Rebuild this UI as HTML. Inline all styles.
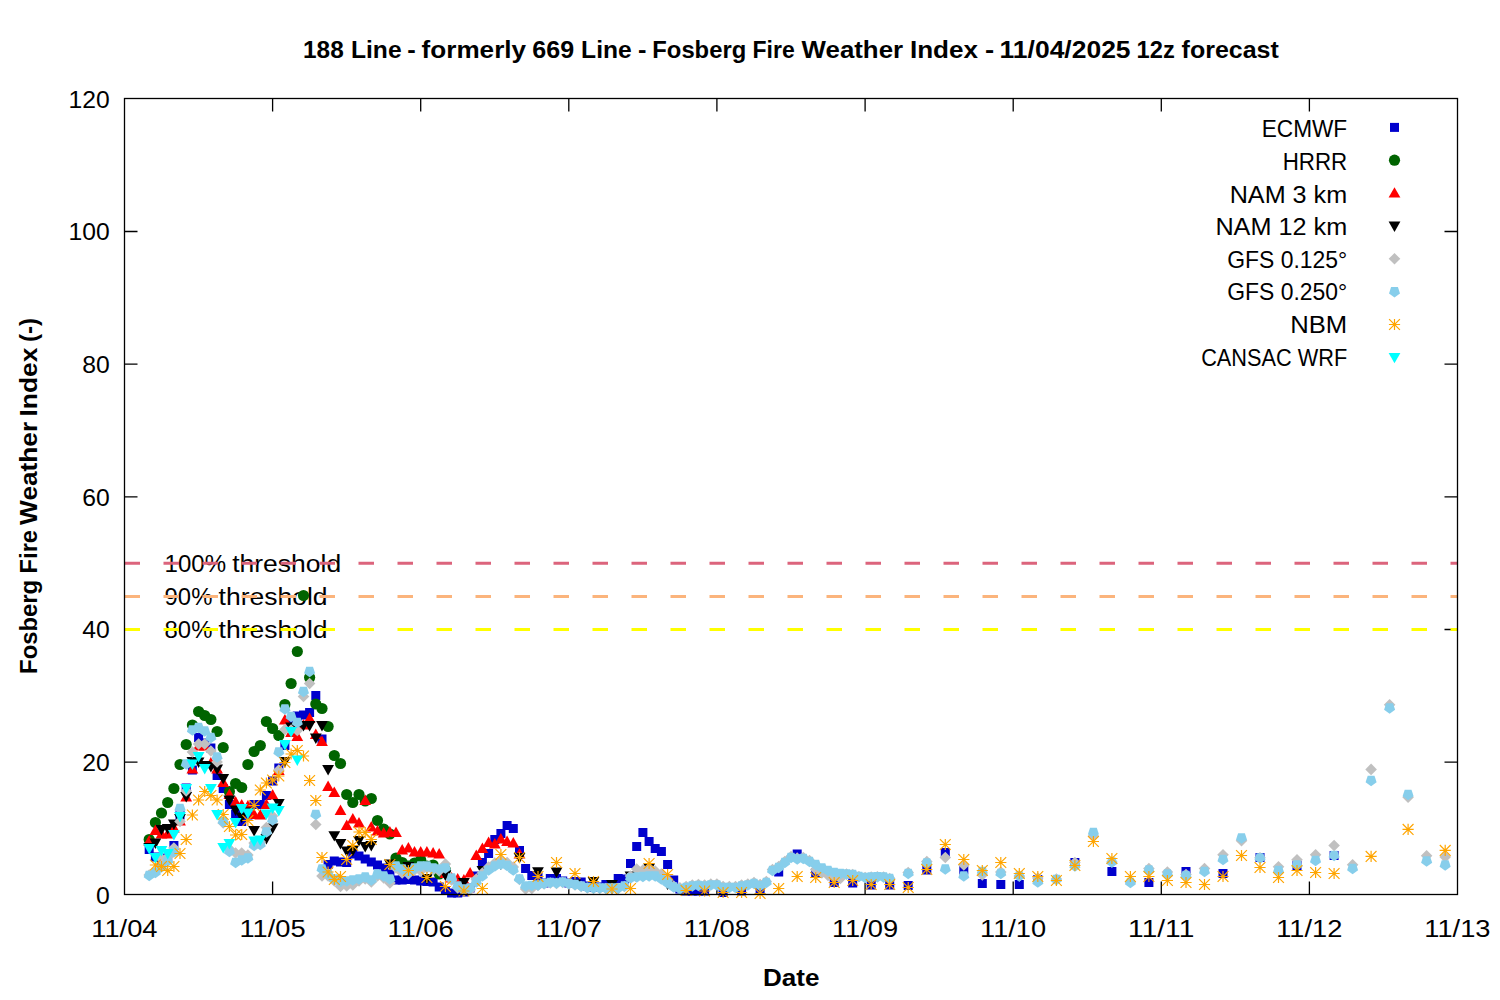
<!DOCTYPE html>
<html><head><meta charset="utf-8"><title>Fosberg Fire Weather Index</title>
<style>
html,body{margin:0;padding:0;background:#fff;}
body{width:1500px;height:1000px;overflow:hidden;font-family:"Liberation Sans",sans-serif;}
svg{display:block}
text{font-family:"Liberation Sans",sans-serif;fill:#000}
.t{font-size:24.2px}
.b{font-size:24.4px;font-weight:bold}
</style></head><body>
<svg width="1500" height="1000" viewBox="0 0 1500 1000">
<rect width="1500" height="1000" fill="#fff"/>
<path d="M272.6 894.5v-13M272.6 98.5v13M420.7 894.5v-13M420.7 98.5v13M568.8 894.5v-13M568.8 98.5v13M716.9 894.5v-13M716.9 98.5v13M865.1 894.5v-13M865.1 98.5v13M1013.2 894.5v-13M1013.2 98.5v13M1161.3 894.5v-13M1161.3 98.5v13M1309.4 894.5v-13M1309.4 98.5v13M124.5 762.1h13M1457.5 762.1h-13M124.5 629.5h13M1457.5 629.5h-13M124.5 496.8h13M1457.5 496.8h-13M124.5 364.1h13M1457.5 364.1h-13M124.5 231.5h13M1457.5 231.5h-13" stroke="#000" stroke-width="1.3" fill="none"/>
<text class="t" x="164.6" y="571.6" textLength="61.5" lengthAdjust="spacingAndGlyphs">100%</text>
<text class="t" x="232.2" y="571.6" textLength="109" lengthAdjust="spacingAndGlyphs">threshold</text>
<text class="t" x="164.6" y="604.8" textLength="47.8" lengthAdjust="spacingAndGlyphs">90%</text>
<text class="t" x="218.6" y="604.8" textLength="109" lengthAdjust="spacingAndGlyphs">threshold</text>
<text class="t" x="164.6" y="638.0" textLength="47.8" lengthAdjust="spacingAndGlyphs">80%</text>
<text class="t" x="218.6" y="638.0" textLength="109" lengthAdjust="spacingAndGlyphs">threshold</text>
<line x1="124.5" x2="1457.5" y1="563.2" y2="563.2" stroke="#dc647c" stroke-width="3" stroke-dasharray="15.5 23.5"/>
<line x1="124.5" x2="1457.5" y1="596.4" y2="596.4" stroke="#fbb47c" stroke-width="3" stroke-dasharray="15.5 23.5"/>
<line x1="124.5" x2="1457.5" y1="629.6" y2="629.6" stroke="#ffff00" stroke-width="3" stroke-dasharray="15.5 23.5"/>
<g fill="#0000cd">
<rect x="144.7" y="845" width="9" height="9"/><rect x="150.9" y="852.5" width="9" height="9"/><rect x="157" y="858.5" width="9" height="9"/><rect x="163.2" y="853.5" width="9" height="9"/><rect x="169.4" y="841" width="9" height="9"/><rect x="175.5" y="810.5" width="9" height="9"/><rect x="181.7" y="783.5" width="9" height="9"/><rect x="187.9" y="765.5" width="9" height="9"/><rect x="194.1" y="733" width="9" height="9"/><rect x="200.2" y="738.5" width="9" height="9"/><rect x="206.4" y="743.5" width="9" height="9"/><rect x="212.6" y="771" width="9" height="9"/><rect x="218.7" y="784" width="9" height="9"/><rect x="224.9" y="800" width="9" height="9"/><rect x="231.1" y="809.5" width="9" height="9"/><rect x="237.2" y="817" width="9" height="9"/><rect x="243.4" y="810.5" width="9" height="9"/><rect x="249.6" y="800" width="9" height="9"/><rect x="255.8" y="800" width="9" height="9"/><rect x="261.9" y="791" width="9" height="9"/><rect x="268.1" y="776.5" width="9" height="9"/><rect x="274.3" y="763.5" width="9" height="9"/><rect x="280.4" y="741" width="9" height="9"/><rect x="286.6" y="719.5" width="9" height="9"/><rect x="292.8" y="711.5" width="9" height="9"/><rect x="299" y="710.5" width="9" height="9"/><rect x="305.1" y="708" width="9" height="9"/><rect x="311.3" y="691" width="9" height="9"/><rect x="317.5" y="734.5" width="9" height="9"/><rect x="323.6" y="860" width="9" height="9"/><rect x="329.8" y="856.5" width="9" height="9"/><rect x="336" y="857.5" width="9" height="9"/><rect x="342.2" y="858" width="9" height="9"/><rect x="348.3" y="849.5" width="9" height="9"/><rect x="354.5" y="851.5" width="9" height="9"/><rect x="360.7" y="854.5" width="9" height="9"/><rect x="366.8" y="857.5" width="9" height="9"/><rect x="373" y="860.5" width="9" height="9"/><rect x="379.2" y="863.5" width="9" height="9"/><rect x="385.4" y="869.5" width="9" height="9"/><rect x="391.5" y="875.5" width="9" height="9"/><rect x="397.7" y="875.5" width="9" height="9"/><rect x="403.9" y="875" width="9" height="9"/><rect x="410" y="875.5" width="9" height="9"/><rect x="416.2" y="876.5" width="9" height="9"/><rect x="422.4" y="877" width="9" height="9"/><rect x="428.6" y="877.5" width="9" height="9"/><rect x="434.7" y="882.5" width="9" height="9"/><rect x="440.9" y="886" width="9" height="9"/><rect x="447.1" y="888.5" width="9" height="9"/><rect x="453.2" y="888.5" width="9" height="9"/><rect x="459.4" y="887.5" width="9" height="9"/><rect x="465.6" y="883.5" width="9" height="9"/><rect x="471.8" y="871.5" width="9" height="9"/><rect x="477.9" y="858" width="9" height="9"/><rect x="484.1" y="849" width="9" height="9"/><rect x="490.3" y="835" width="9" height="9"/><rect x="496.4" y="829" width="9" height="9"/><rect x="502.6" y="821" width="9" height="9"/><rect x="508.8" y="824" width="9" height="9"/><rect x="515" y="846" width="9" height="9"/><rect x="521.1" y="864" width="9" height="9"/><rect x="527.3" y="871" width="9" height="9"/><rect x="533.5" y="873" width="9" height="9"/><rect x="539.6" y="878.5" width="9" height="9"/><rect x="545.8" y="874" width="9" height="9"/><rect x="552" y="874" width="9" height="9"/><rect x="558.2" y="876.5" width="9" height="9"/><rect x="564.3" y="878.5" width="9" height="9"/><rect x="570.5" y="877" width="9" height="9"/><rect x="576.7" y="877.5" width="9" height="9"/><rect x="582.8" y="881.5" width="9" height="9"/><rect x="589" y="883" width="9" height="9"/><rect x="595.2" y="882.5" width="9" height="9"/><rect x="601.4" y="880" width="9" height="9"/><rect x="607.5" y="881.5" width="9" height="9"/><rect x="613.7" y="874" width="9" height="9"/><rect x="619.9" y="874.5" width="9" height="9"/><rect x="626" y="859" width="9" height="9"/><rect x="632.2" y="842" width="9" height="9"/><rect x="638.4" y="828" width="9" height="9"/><rect x="644.6" y="837" width="9" height="9"/><rect x="650.7" y="844" width="9" height="9"/><rect x="656.9" y="847" width="9" height="9"/><rect x="663.1" y="860" width="9" height="9"/><rect x="669.2" y="875.5" width="9" height="9"/><rect x="675.4" y="884.5" width="9" height="9"/><rect x="681.6" y="886.5" width="9" height="9"/><rect x="687.8" y="886.5" width="9" height="9"/><rect x="693.9" y="886.5" width="9" height="9"/><rect x="700.1" y="886.5" width="9" height="9"/><rect x="718.6" y="888" width="9" height="9"/><rect x="737.1" y="886.5" width="9" height="9"/><rect x="755.6" y="886" width="9" height="9"/><rect x="774.2" y="867.5" width="9" height="9"/><rect x="792.7" y="849.5" width="9" height="9"/><rect x="811.2" y="868" width="9" height="9"/><rect x="829.7" y="878" width="9" height="9"/><rect x="848.2" y="878.5" width="9" height="9"/><rect x="866.7" y="880.5" width="9" height="9"/><rect x="885.2" y="880.5" width="9" height="9"/><rect x="903.7" y="881" width="9" height="9"/><rect x="922.3" y="865.5" width="9" height="9"/><rect x="940.8" y="848" width="9" height="9"/><rect x="959.3" y="865.5" width="9" height="9"/><rect x="977.8" y="879" width="9" height="9"/><rect x="996.3" y="880" width="9" height="9"/><rect x="1014.8" y="880" width="9" height="9"/><rect x="1033.3" y="875" width="9" height="9"/><rect x="1070.4" y="858" width="9" height="9"/><rect x="1107.4" y="867" width="9" height="9"/><rect x="1144.4" y="878" width="9" height="9"/><rect x="1181.5" y="867" width="9" height="9"/><rect x="1218.5" y="869" width="9" height="9"/><rect x="1255.5" y="853" width="9" height="9"/><rect x="1292.5" y="861" width="9" height="9"/><rect x="1329.6" y="851" width="9" height="9"/>
</g>
<g fill="#006400">
<circle cx="149.2" cy="839.5" r="5.6"/><circle cx="155.4" cy="822.5" r="5.6"/><circle cx="161.5" cy="813" r="5.6"/><circle cx="167.7" cy="802.5" r="5.6"/><circle cx="173.9" cy="788.5" r="5.6"/><circle cx="180" cy="764.5" r="5.6"/><circle cx="186.2" cy="744.5" r="5.6"/><circle cx="192.4" cy="725" r="5.6"/><circle cx="198.6" cy="711.5" r="5.6"/><circle cx="204.7" cy="715.5" r="5.6"/><circle cx="210.9" cy="719.5" r="5.6"/><circle cx="217.1" cy="731.5" r="5.6"/><circle cx="223.2" cy="747.5" r="5.6"/><circle cx="229.4" cy="791.5" r="5.6"/><circle cx="235.6" cy="783.5" r="5.6"/><circle cx="241.7" cy="787.5" r="5.6"/><circle cx="247.9" cy="764.5" r="5.6"/><circle cx="254.1" cy="751.5" r="5.6"/><circle cx="260.3" cy="745.5" r="5.6"/><circle cx="266.4" cy="721.5" r="5.6"/><circle cx="272.6" cy="728.5" r="5.6"/><circle cx="278.8" cy="735.5" r="5.6"/><circle cx="284.9" cy="704.5" r="5.6"/><circle cx="291.1" cy="683.5" r="5.6"/><circle cx="297.3" cy="651.5" r="5.6"/><circle cx="303.5" cy="595.5" r="5.6"/><circle cx="309.6" cy="677.5" r="5.6"/><circle cx="315.8" cy="704" r="5.6"/><circle cx="322" cy="708.5" r="5.6"/><circle cx="328.1" cy="726.5" r="5.6"/><circle cx="334.3" cy="755.5" r="5.6"/><circle cx="340.5" cy="763.5" r="5.6"/><circle cx="346.7" cy="794.5" r="5.6"/><circle cx="352.8" cy="802.5" r="5.6"/><circle cx="359" cy="794.5" r="5.6"/><circle cx="365.2" cy="801" r="5.6"/><circle cx="371.3" cy="798.5" r="5.6"/><circle cx="377.5" cy="820.5" r="5.6"/><circle cx="383.7" cy="829" r="5.6"/><circle cx="389.9" cy="834" r="5.6"/><circle cx="396" cy="858" r="5.6"/><circle cx="402.2" cy="862.5" r="5.6"/><circle cx="408.4" cy="866" r="5.6"/><circle cx="414.5" cy="863" r="5.6"/><circle cx="420.7" cy="860" r="5.6"/><circle cx="426.9" cy="866" r="5.6"/><circle cx="433.1" cy="865" r="5.6"/><circle cx="439.2" cy="874" r="5.6"/><circle cx="445.4" cy="870" r="5.6"/>
</g>
<g fill="#ff0000">
<path d="M143.3 845.5h11.8L149.2 835.1z"/><path d="M149.5 835h11.8L155.4 824.6z"/><path d="M155.6 838.5h11.8L161.5 828.1z"/><path d="M161.8 838.5h11.8L167.7 828.1z"/><path d="M168 832.5h11.8L173.9 822.1z"/><path d="M174.1 825.5h11.8L180 815.1z"/><path d="M180.3 801.5h11.8L186.2 791.1z"/><path d="M186.5 773.5h11.8L192.4 763.1z"/><path d="M192.7 750.5h11.8L198.6 740.1z"/><path d="M198.8 750.5h11.8L204.7 740.1z"/><path d="M205 767.5h11.8L210.9 757.1z"/><path d="M211.2 773.5h11.8L217.1 763.1z"/><path d="M217.3 787h11.8L223.2 776.6z"/><path d="M223.5 799h11.8L229.4 788.6z"/><path d="M229.7 806.5h11.8L235.6 796.1z"/><path d="M235.8 809.5h11.8L241.7 799.1z"/><path d="M242 810.5h11.8L247.9 800.1z"/><path d="M248.2 819h11.8L254.1 808.6z"/><path d="M254.4 819.5h11.8L260.3 809.1z"/><path d="M260.5 809h11.8L266.4 798.6z"/><path d="M266.7 799.5h11.8L272.6 789.1z"/><path d="M272.9 775h11.8L278.8 764.6z"/><path d="M279 724.5h11.8L284.9 714.1z"/><path d="M285.2 737h11.8L291.1 726.6z"/><path d="M291.4 741h11.8L297.3 730.6z"/><path d="M297.6 729.5h11.8L303.5 719.1z"/><path d="M303.7 723h11.8L309.6 712.6z"/><path d="M309.9 739h11.8L315.8 728.6z"/><path d="M316.1 746h11.8L322 735.6z"/><path d="M322.2 791h11.8L328.1 780.6z"/><path d="M328.4 797h11.8L334.3 786.6z"/><path d="M334.6 815h11.8L340.5 804.6z"/><path d="M340.8 830h11.8L346.7 819.6z"/><path d="M346.9 823.5h11.8L352.8 813.1z"/><path d="M353.1 827.5h11.8L359 817.1z"/><path d="M359.3 805h11.8L365.2 794.6z"/><path d="M365.4 831.5h11.8L371.3 821.1z"/><path d="M371.6 835.5h11.8L377.5 825.1z"/><path d="M377.8 837.5h11.8L383.7 827.1z"/><path d="M384 836.5h11.8L389.9 826.1z"/><path d="M390.1 837h11.8L396 826.6z"/><path d="M396.3 854.5h11.8L402.2 844.1z"/><path d="M402.5 852.5h11.8L408.4 842.1z"/><path d="M408.6 856.5h11.8L414.5 846.1z"/><path d="M414.8 856.5h11.8L420.7 846.1z"/><path d="M421 856.5h11.8L426.9 846.1z"/><path d="M427.2 857.5h11.8L433.1 847.1z"/><path d="M433.3 858.5h11.8L439.2 848.1z"/><path d="M439.5 878h11.8L445.4 867.6z"/><path d="M445.7 882.5h11.8L451.6 872.1z"/><path d="M451.8 883.5h11.8L457.7 873.1z"/><path d="M458 884.5h11.8L463.9 874.1z"/><path d="M464.2 877.5h11.8L470.1 867.1z"/><path d="M470.4 860h11.8L476.3 849.6z"/><path d="M476.5 853h11.8L482.4 842.6z"/><path d="M482.7 847h11.8L488.6 836.6z"/><path d="M488.9 848.5h11.8L494.8 838.1z"/><path d="M495 843.5h11.8L500.9 833.1z"/><path d="M501.2 846h11.8L507.1 835.6z"/><path d="M507.4 847.5h11.8L513.3 837.1z"/><path d="M513.6 858.5h11.8L519.5 848.1z"/>
</g>
<g fill="#000">
<path d="M143.3 843h11.8L149.2 853.4z"/><path d="M149.5 838.5h11.8L155.4 848.9z"/><path d="M155.6 825h11.8L161.5 835.4z"/><path d="M161.8 824h11.8L167.7 834.4z"/><path d="M168 819.5h11.8L173.9 829.9z"/><path d="M174.1 814h11.8L180 824.4z"/><path d="M180.3 792h11.8L186.2 802.4z"/><path d="M186.5 757h11.8L192.4 767.4z"/><path d="M192.7 757.5h11.8L198.6 767.9z"/><path d="M198.8 761h11.8L204.7 771.4z"/><path d="M205 762h11.8L210.9 772.4z"/><path d="M211.2 764.5h11.8L217.1 774.9z"/><path d="M217.3 774h11.8L223.2 784.4z"/><path d="M223.5 795.5h11.8L229.4 805.9z"/><path d="M229.7 805.5h11.8L235.6 815.9z"/><path d="M235.8 812.5h11.8L241.7 822.9z"/><path d="M242 807.5h11.8L247.9 817.9z"/><path d="M248.2 826h11.8L254.1 836.4z"/><path d="M254.4 837.5h11.8L260.3 847.9z"/><path d="M260.5 834h11.8L266.4 844.4z"/><path d="M266.7 823.5h11.8L272.6 833.9z"/><path d="M272.9 799h11.8L278.8 809.4z"/><path d="M279 757h11.8L284.9 767.4z"/><path d="M285.2 722.5h11.8L291.1 732.9z"/><path d="M291.4 722.5h11.8L297.3 732.9z"/><path d="M297.6 721h11.8L303.5 731.4z"/><path d="M303.7 721h11.8L309.6 731.4z"/><path d="M309.9 733.5h11.8L315.8 743.9z"/><path d="M316.1 721h11.8L322 731.4z"/><path d="M322.2 765h11.8L328.1 775.4z"/><path d="M328.4 831.2h11.8L334.3 841.6z"/><path d="M334.6 839.1h11.8L340.5 849.5z"/><path d="M340.8 846.5h11.8L346.7 856.9z"/><path d="M346.9 846h11.8L352.8 856.4z"/><path d="M353.1 836h11.8L359 846.4z"/><path d="M359.3 842h11.8L365.2 852.4z"/><path d="M365.4 841h11.8L371.3 851.4z"/><path d="M384 859.5h11.8L389.9 869.9z"/><path d="M402.5 862h11.8L408.4 872.4z"/><path d="M421 874h11.8L426.9 884.4z"/><path d="M439.5 870.5h11.8L445.4 880.9z"/><path d="M458 878h11.8L463.9 888.4z"/><path d="M476.5 866h11.8L482.4 876.4z"/><path d="M495 859.5h11.8L500.9 869.9z"/><path d="M513.6 853h11.8L519.5 863.4z"/><path d="M532.1 867.2h11.8L538 877.6z"/><path d="M550.6 867.5h11.8L556.5 877.9z"/><path d="M569.1 879.5h11.8L575 889.9z"/><path d="M587.6 877h11.8L593.5 887.4z"/><path d="M606.1 880h11.8L612 890.4z"/><path d="M624.6 871.5h11.8L630.5 881.9z"/><path d="M643.2 863.5h11.8L649.1 873.9z"/><path d="M661.7 879.5h11.8L667.6 889.9z"/>
</g>
<g fill="#c0c0c0">
<path d="M143.4 875l5.8 -5.8l5.8 5.8l-5.8 5.8z"/><path d="M149.6 872l5.8 -5.8l5.8 5.8l-5.8 5.8z"/><path d="M155.7 859l5.8 -5.8l5.8 5.8l-5.8 5.8z"/><path d="M161.9 857l5.8 -5.8l5.8 5.8l-5.8 5.8z"/><path d="M168.1 848l5.8 -5.8l5.8 5.8l-5.8 5.8z"/><path d="M174.2 821.5l5.8 -5.8l5.8 5.8l-5.8 5.8z"/><path d="M180.4 791l5.8 -5.8l5.8 5.8l-5.8 5.8z"/><path d="M186.6 752l5.8 -5.8l5.8 5.8l-5.8 5.8z"/><path d="M192.8 744l5.8 -5.8l5.8 5.8l-5.8 5.8z"/><path d="M198.9 744l5.8 -5.8l5.8 5.8l-5.8 5.8z"/><path d="M205.1 751l5.8 -5.8l5.8 5.8l-5.8 5.8z"/><path d="M211.3 762l5.8 -5.8l5.8 5.8l-5.8 5.8z"/><path d="M217.4 823l5.8 -5.8l5.8 5.8l-5.8 5.8z"/><path d="M223.6 849l5.8 -5.8l5.8 5.8l-5.8 5.8z"/><path d="M229.8 853l5.8 -5.8l5.8 5.8l-5.8 5.8z"/><path d="M235.9 853l5.8 -5.8l5.8 5.8l-5.8 5.8z"/><path d="M242.1 855l5.8 -5.8l5.8 5.8l-5.8 5.8z"/><path d="M248.3 843l5.8 -5.8l5.8 5.8l-5.8 5.8z"/><path d="M254.5 842l5.8 -5.8l5.8 5.8l-5.8 5.8z"/><path d="M260.6 827.5l5.8 -5.8l5.8 5.8l-5.8 5.8z"/><path d="M266.8 816l5.8 -5.8l5.8 5.8l-5.8 5.8z"/><path d="M273 770l5.8 -5.8l5.8 5.8l-5.8 5.8z"/><path d="M279.1 729.5l5.8 -5.8l5.8 5.8l-5.8 5.8z"/><path d="M285.3 730l5.8 -5.8l5.8 5.8l-5.8 5.8z"/><path d="M291.5 730.5l5.8 -5.8l5.8 5.8l-5.8 5.8z"/><path d="M297.7 696.5l5.8 -5.8l5.8 5.8l-5.8 5.8z"/><path d="M303.8 683.5l5.8 -5.8l5.8 5.8l-5.8 5.8z"/><path d="M310 824.5l5.8 -5.8l5.8 5.8l-5.8 5.8z"/><path d="M316.2 876l5.8 -5.8l5.8 5.8l-5.8 5.8z"/><path d="M322.3 876l5.8 -5.8l5.8 5.8l-5.8 5.8z"/><path d="M328.5 881l5.8 -5.8l5.8 5.8l-5.8 5.8z"/><path d="M334.7 886.5l5.8 -5.8l5.8 5.8l-5.8 5.8z"/><path d="M340.9 886l5.8 -5.8l5.8 5.8l-5.8 5.8z"/><path d="M347 885l5.8 -5.8l5.8 5.8l-5.8 5.8z"/><path d="M353.2 881l5.8 -5.8l5.8 5.8l-5.8 5.8z"/><path d="M359.4 879l5.8 -5.8l5.8 5.8l-5.8 5.8z"/><path d="M365.5 882l5.8 -5.8l5.8 5.8l-5.8 5.8z"/><path d="M371.7 876l5.8 -5.8l5.8 5.8l-5.8 5.8z"/><path d="M377.9 878l5.8 -5.8l5.8 5.8l-5.8 5.8z"/><path d="M384.1 883l5.8 -5.8l5.8 5.8l-5.8 5.8z"/><path d="M390.2 868l5.8 -5.8l5.8 5.8l-5.8 5.8z"/><path d="M396.4 873l5.8 -5.8l5.8 5.8l-5.8 5.8z"/><path d="M402.6 874l5.8 -5.8l5.8 5.8l-5.8 5.8z"/><path d="M408.7 870l5.8 -5.8l5.8 5.8l-5.8 5.8z"/><path d="M414.9 871l5.8 -5.8l5.8 5.8l-5.8 5.8z"/><path d="M421.1 868l5.8 -5.8l5.8 5.8l-5.8 5.8z"/><path d="M427.3 870l5.8 -5.8l5.8 5.8l-5.8 5.8z"/><path d="M433.4 871l5.8 -5.8l5.8 5.8l-5.8 5.8z"/><path d="M439.6 864l5.8 -5.8l5.8 5.8l-5.8 5.8z"/><path d="M445.8 880l5.8 -5.8l5.8 5.8l-5.8 5.8z"/><path d="M451.9 888l5.8 -5.8l5.8 5.8l-5.8 5.8z"/><path d="M458.1 891l5.8 -5.8l5.8 5.8l-5.8 5.8z"/><path d="M464.3 890l5.8 -5.8l5.8 5.8l-5.8 5.8z"/><path d="M470.5 879l5.8 -5.8l5.8 5.8l-5.8 5.8z"/><path d="M476.6 873l5.8 -5.8l5.8 5.8l-5.8 5.8z"/><path d="M482.8 867l5.8 -5.8l5.8 5.8l-5.8 5.8z"/><path d="M489 863l5.8 -5.8l5.8 5.8l-5.8 5.8z"/><path d="M495.1 861l5.8 -5.8l5.8 5.8l-5.8 5.8z"/><path d="M501.3 862.5l5.8 -5.8l5.8 5.8l-5.8 5.8z"/><path d="M507.5 867l5.8 -5.8l5.8 5.8l-5.8 5.8z"/><path d="M513.7 879.5l5.8 -5.8l5.8 5.8l-5.8 5.8z"/><path d="M519.8 889l5.8 -5.8l5.8 5.8l-5.8 5.8z"/><path d="M526 888.5l5.8 -5.8l5.8 5.8l-5.8 5.8z"/><path d="M532.2 885.5l5.8 -5.8l5.8 5.8l-5.8 5.8z"/><path d="M538.3 884l5.8 -5.8l5.8 5.8l-5.8 5.8z"/><path d="M544.5 883l5.8 -5.8l5.8 5.8l-5.8 5.8z"/><path d="M550.7 883.5l5.8 -5.8l5.8 5.8l-5.8 5.8z"/><path d="M556.9 882.5l5.8 -5.8l5.8 5.8l-5.8 5.8z"/><path d="M563 884l5.8 -5.8l5.8 5.8l-5.8 5.8z"/><path d="M569.2 885l5.8 -5.8l5.8 5.8l-5.8 5.8z"/><path d="M575.4 886.5l5.8 -5.8l5.8 5.8l-5.8 5.8z"/><path d="M581.5 888l5.8 -5.8l5.8 5.8l-5.8 5.8z"/><path d="M587.7 888.5l5.8 -5.8l5.8 5.8l-5.8 5.8z"/><path d="M593.9 888.5l5.8 -5.8l5.8 5.8l-5.8 5.8z"/><path d="M600.1 888.5l5.8 -5.8l5.8 5.8l-5.8 5.8z"/><path d="M606.2 888.5l5.8 -5.8l5.8 5.8l-5.8 5.8z"/><path d="M612.4 888.5l5.8 -5.8l5.8 5.8l-5.8 5.8z"/><path d="M618.6 886.5l5.8 -5.8l5.8 5.8l-5.8 5.8z"/><path d="M624.7 876l5.8 -5.8l5.8 5.8l-5.8 5.8z"/><path d="M630.9 869l5.8 -5.8l5.8 5.8l-5.8 5.8z"/><path d="M637.1 870l5.8 -5.8l5.8 5.8l-5.8 5.8z"/><path d="M643.3 868l5.8 -5.8l5.8 5.8l-5.8 5.8z"/><path d="M649.4 871l5.8 -5.8l5.8 5.8l-5.8 5.8z"/><path d="M655.6 874l5.8 -5.8l5.8 5.8l-5.8 5.8z"/><path d="M661.8 880l5.8 -5.8l5.8 5.8l-5.8 5.8z"/><path d="M667.9 886l5.8 -5.8l5.8 5.8l-5.8 5.8z"/><path d="M674.1 887.7l5.8 -5.8l5.8 5.8l-5.8 5.8z"/><path d="M680.3 886.5l5.8 -5.8l5.8 5.8l-5.8 5.8z"/><path d="M686.5 885l5.8 -5.8l5.8 5.8l-5.8 5.8z"/><path d="M692.6 884.5l5.8 -5.8l5.8 5.8l-5.8 5.8z"/><path d="M698.8 885l5.8 -5.8l5.8 5.8l-5.8 5.8z"/><path d="M705 884l5.8 -5.8l5.8 5.8l-5.8 5.8z"/><path d="M711.1 884l5.8 -5.8l5.8 5.8l-5.8 5.8z"/><path d="M717.3 886.5l5.8 -5.8l5.8 5.8l-5.8 5.8z"/><path d="M723.5 886.5l5.8 -5.8l5.8 5.8l-5.8 5.8z"/><path d="M729.7 886.5l5.8 -5.8l5.8 5.8l-5.8 5.8z"/><path d="M735.8 885l5.8 -5.8l5.8 5.8l-5.8 5.8z"/><path d="M742 884l5.8 -5.8l5.8 5.8l-5.8 5.8z"/><path d="M748.2 882.5l5.8 -5.8l5.8 5.8l-5.8 5.8z"/><path d="M754.3 884.5l5.8 -5.8l5.8 5.8l-5.8 5.8z"/><path d="M760.5 881.5l5.8 -5.8l5.8 5.8l-5.8 5.8z"/><path d="M766.7 869.5l5.8 -5.8l5.8 5.8l-5.8 5.8z"/><path d="M772.9 866.5l5.8 -5.8l5.8 5.8l-5.8 5.8z"/><path d="M779 861.5l5.8 -5.8l5.8 5.8l-5.8 5.8z"/><path d="M785.2 856.5l5.8 -5.8l5.8 5.8l-5.8 5.8z"/><path d="M791.4 858l5.8 -5.8l5.8 5.8l-5.8 5.8z"/><path d="M797.5 857.5l5.8 -5.8l5.8 5.8l-5.8 5.8z"/><path d="M803.7 860.5l5.8 -5.8l5.8 5.8l-5.8 5.8z"/><path d="M809.9 869.5l5.8 -5.8l5.8 5.8l-5.8 5.8z"/><path d="M816.1 873l5.8 -5.8l5.8 5.8l-5.8 5.8z"/><path d="M822.2 875.5l5.8 -5.8l5.8 5.8l-5.8 5.8z"/><path d="M828.4 877.5l5.8 -5.8l5.8 5.8l-5.8 5.8z"/><path d="M834.6 878.5l5.8 -5.8l5.8 5.8l-5.8 5.8z"/><path d="M840.7 874l5.8 -5.8l5.8 5.8l-5.8 5.8z"/><path d="M846.9 874.5l5.8 -5.8l5.8 5.8l-5.8 5.8z"/><path d="M853.1 876.5l5.8 -5.8l5.8 5.8l-5.8 5.8z"/><path d="M859.3 877.5l5.8 -5.8l5.8 5.8l-5.8 5.8z"/><path d="M865.4 877l5.8 -5.8l5.8 5.8l-5.8 5.8z"/><path d="M871.6 876.7l5.8 -5.8l5.8 5.8l-5.8 5.8z"/><path d="M877.8 877l5.8 -5.8l5.8 5.8l-5.8 5.8z"/><path d="M883.9 878.5l5.8 -5.8l5.8 5.8l-5.8 5.8z"/><path d="M902.4 872.5l5.8 -5.8l5.8 5.8l-5.8 5.8z"/><path d="M921 861.5l5.8 -5.8l5.8 5.8l-5.8 5.8z"/><path d="M939.5 857.5l5.8 -5.8l5.8 5.8l-5.8 5.8z"/><path d="M958 865l5.8 -5.8l5.8 5.8l-5.8 5.8z"/><path d="M976.5 875l5.8 -5.8l5.8 5.8l-5.8 5.8z"/><path d="M995 872l5.8 -5.8l5.8 5.8l-5.8 5.8z"/><path d="M1013.5 876l5.8 -5.8l5.8 5.8l-5.8 5.8z"/><path d="M1032 878l5.8 -5.8l5.8 5.8l-5.8 5.8z"/><path d="M1050.6 879l5.8 -5.8l5.8 5.8l-5.8 5.8z"/><path d="M1069.1 862.5l5.8 -5.8l5.8 5.8l-5.8 5.8z"/><path d="M1087.6 836l5.8 -5.8l5.8 5.8l-5.8 5.8z"/><path d="M1106.1 862l5.8 -5.8l5.8 5.8l-5.8 5.8z"/><path d="M1124.6 882l5.8 -5.8l5.8 5.8l-5.8 5.8z"/><path d="M1143.1 868.5l5.8 -5.8l5.8 5.8l-5.8 5.8z"/><path d="M1161.6 872l5.8 -5.8l5.8 5.8l-5.8 5.8z"/><path d="M1180.2 874.5l5.8 -5.8l5.8 5.8l-5.8 5.8z"/><path d="M1198.7 868.5l5.8 -5.8l5.8 5.8l-5.8 5.8z"/><path d="M1217.2 854.8l5.8 -5.8l5.8 5.8l-5.8 5.8z"/><path d="M1235.7 840.7l5.8 -5.8l5.8 5.8l-5.8 5.8z"/><path d="M1254.2 857.8l5.8 -5.8l5.8 5.8l-5.8 5.8z"/><path d="M1272.7 866.8l5.8 -5.8l5.8 5.8l-5.8 5.8z"/><path d="M1291.2 859.8l5.8 -5.8l5.8 5.8l-5.8 5.8z"/><path d="M1309.8 854.8l5.8 -5.8l5.8 5.8l-5.8 5.8z"/><path d="M1328.3 845.5l5.8 -5.8l5.8 5.8l-5.8 5.8z"/><path d="M1346.8 864.8l5.8 -5.8l5.8 5.8l-5.8 5.8z"/><path d="M1365.3 769.4l5.8 -5.8l5.8 5.8l-5.8 5.8z"/><path d="M1383.8 704.8l5.8 -5.8l5.8 5.8l-5.8 5.8z"/><path d="M1402.3 797.2l5.8 -5.8l5.8 5.8l-5.8 5.8z"/><path d="M1420.8 855.8l5.8 -5.8l5.8 5.8l-5.8 5.8z"/><path d="M1439.4 857l5.8 -5.8l5.8 5.8l-5.8 5.8z"/>
</g>
<g fill="#87ceeb">
<path d="M149.2 881.3L143.7 877.3L145.8 870.8L152.6 870.8L154.7 877.3z"/><path d="M155.4 878.3L149.8 874.3L151.9 867.8L158.8 867.8L160.9 874.3z"/><path d="M161.5 872.8L156 868.8L158.1 862.3L164.9 862.3L167 868.8z"/><path d="M167.7 866.8L162.2 862.8L164.3 856.3L171.1 856.3L173.2 862.8z"/><path d="M173.9 857.8L168.3 853.8L170.5 847.3L177.3 847.3L179.4 853.8z"/><path d="M180 814.3L174.5 810.3L176.6 803.8L183.4 803.8L185.6 810.3z"/><path d="M186.2 769.8L180.7 765.8L182.8 759.3L189.6 759.3L191.7 765.8z"/><path d="M192.4 735.8L186.9 731.8L189 725.3L195.8 725.3L197.9 731.8z"/><path d="M198.6 733.3L193 729.3L195.1 722.8L202 722.8L204.1 729.3z"/><path d="M204.7 736.8L199.2 732.8L201.3 726.3L208.1 726.3L210.2 732.8z"/><path d="M210.9 743.3L205.4 739.3L207.5 732.8L214.3 732.8L216.4 739.3z"/><path d="M217.1 762.8L211.5 758.8L213.7 752.3L220.5 752.3L222.6 758.8z"/><path d="M223.2 827.3L217.7 823.3L219.8 816.8L226.6 816.8L228.8 823.3z"/><path d="M229.4 857.3L223.9 853.3L226 846.8L232.8 846.8L234.9 853.3z"/><path d="M235.6 868.3L230.1 864.3L232.2 857.8L239 857.8L241.1 864.3z"/><path d="M241.7 865.8L236.2 861.8L238.3 855.3L245.2 855.3L247.3 861.8z"/><path d="M247.9 863.8L242.4 859.8L244.5 853.3L251.3 853.3L253.4 859.8z"/><path d="M254.1 851.3L248.6 847.3L250.7 840.8L257.5 840.8L259.6 847.3z"/><path d="M260.3 850.3L254.7 846.3L256.9 839.8L263.7 839.8L265.8 846.3z"/><path d="M266.4 837.8L260.9 833.8L263 827.3L269.8 827.3L272 833.8z"/><path d="M272.6 825.8L267.1 821.8L269.2 815.3L276 815.3L278.1 821.8z"/><path d="M278.8 757.8L273.3 753.8L275.4 747.3L282.2 747.3L284.3 753.8z"/><path d="M284.9 714.8L279.4 710.8L281.5 704.3L288.4 704.3L290.5 710.8z"/><path d="M291.1 722.3L285.6 718.3L287.7 711.8L294.5 711.8L296.6 718.3z"/><path d="M297.3 728.3L291.8 724.3L293.9 717.8L300.7 717.8L302.8 724.3z"/><path d="M303.5 697.3L297.9 693.3L300.1 686.8L306.9 686.8L309 693.3z"/><path d="M309.6 677.3L304.1 673.3L306.2 666.8L313 666.8L315.1 673.3z"/><path d="M315.8 820.3L310.3 816.3L312.4 809.8L319.2 809.8L321.3 816.3z"/><path d="M322 874.8L316.5 870.8L318.6 864.3L325.4 864.3L327.5 870.8z"/><path d="M328.1 879.8L322.6 875.8L324.7 869.3L331.6 869.3L333.7 875.8z"/><path d="M334.3 884.8L328.8 880.8L330.9 874.3L337.7 874.3L339.8 880.8z"/><path d="M340.5 887.3L335 883.3L337.1 876.8L343.9 876.8L346 883.3z"/><path d="M346.7 886.8L341.1 882.8L343.3 876.3L350.1 876.3L352.2 882.8z"/><path d="M352.8 885.8L347.3 881.8L349.4 875.3L356.2 875.3L358.3 881.8z"/><path d="M359 884.8L353.5 880.8L355.6 874.3L362.4 874.3L364.5 880.8z"/><path d="M365.2 882.8L359.7 878.8L361.8 872.3L368.6 872.3L370.7 878.8z"/><path d="M371.3 885.8L365.8 881.8L367.9 875.3L374.8 875.3L376.9 881.8z"/><path d="M377.5 879.8L372 875.8L374.1 869.3L380.9 869.3L383 875.8z"/><path d="M383.7 881.8L378.2 877.8L380.3 871.3L387.1 871.3L389.2 877.8z"/><path d="M389.9 884.8L384.3 880.8L386.5 874.3L393.3 874.3L395.4 880.8z"/><path d="M396 871.8L390.5 867.8L392.6 861.3L399.4 861.3L401.5 867.8z"/><path d="M402.2 874.8L396.7 870.8L398.8 864.3L405.6 864.3L407.7 870.8z"/><path d="M408.4 877.8L402.9 873.8L405 867.3L411.8 867.3L413.9 873.8z"/><path d="M414.5 873.8L409 869.8L411.1 863.3L418 863.3L420.1 869.8z"/><path d="M420.7 871.8L415.2 867.8L417.3 861.3L424.1 861.3L426.2 867.8z"/><path d="M426.9 871.8L421.4 867.8L423.5 861.3L430.3 861.3L432.4 867.8z"/><path d="M433.1 873.8L427.5 869.8L429.7 863.3L436.5 863.3L438.6 869.8z"/><path d="M439.2 874.8L433.7 870.8L435.8 864.3L442.6 864.3L444.7 870.8z"/><path d="M445.4 873.8L439.9 869.8L442 863.3L448.8 863.3L450.9 869.8z"/><path d="M451.6 883.8L446.1 879.8L448.2 873.3L455 873.3L457.1 879.8z"/><path d="M457.7 891.8L452.2 887.8L454.3 881.3L461.2 881.3L463.3 887.8z"/><path d="M463.9 894.8L458.4 890.8L460.5 884.3L467.3 884.3L469.4 890.8z"/><path d="M470.1 893.8L464.6 889.8L466.7 883.3L473.5 883.3L475.6 889.8z"/><path d="M476.3 887.8L470.7 883.8L472.8 877.3L479.7 877.3L481.8 883.8z"/><path d="M482.4 881.8L476.9 877.8L479 871.3L485.8 871.3L487.9 877.8z"/><path d="M488.6 875.8L483.1 871.8L485.2 865.3L492 865.3L494.1 871.8z"/><path d="M494.8 871.8L489.3 867.8L491.4 861.3L498.2 861.3L500.3 867.8z"/><path d="M500.9 869.8L495.4 865.8L497.5 859.3L504.4 859.3L506.5 865.8z"/><path d="M507.1 871.3L501.6 867.3L503.7 860.8L510.5 860.8L512.6 867.3z"/><path d="M513.3 875.8L507.8 871.8L509.9 865.3L516.7 865.3L518.8 871.8z"/><path d="M519.5 884.8L513.9 880.8L516 874.3L522.9 874.3L525 880.8z"/><path d="M525.6 891.8L520.1 887.8L522.2 881.3L529 881.3L531.1 887.8z"/><path d="M531.8 891.3L526.3 887.3L528.4 880.8L535.2 880.8L537.3 887.3z"/><path d="M538 890.8L532.5 886.8L534.6 880.3L541.4 880.3L543.5 886.8z"/><path d="M544.1 889.3L538.6 885.3L540.7 878.8L547.6 878.8L549.7 885.3z"/><path d="M550.3 888.3L544.8 884.3L546.9 877.8L553.7 877.8L555.8 884.3z"/><path d="M556.5 888.8L551 884.8L553.1 878.3L559.9 878.3L562 884.8z"/><path d="M562.7 887.8L557.1 883.8L559.2 877.3L566.1 877.3L568.2 883.8z"/><path d="M568.8 889.3L563.3 885.3L565.4 878.8L572.2 878.8L574.3 885.3z"/><path d="M575 890.3L569.5 886.3L571.6 879.8L578.4 879.8L580.5 886.3z"/><path d="M581.2 891.8L575.7 887.8L577.8 881.3L584.6 881.3L586.7 887.8z"/><path d="M587.3 893.3L581.8 889.3L583.9 882.8L590.8 882.8L592.9 889.3z"/><path d="M593.5 893.8L588 889.8L590.1 883.3L596.9 883.3L599 889.8z"/><path d="M599.7 893.8L594.2 889.8L596.3 883.3L603.1 883.3L605.2 889.8z"/><path d="M605.9 893.8L600.3 889.8L602.4 883.3L609.3 883.3L611.4 889.8z"/><path d="M612 893.8L606.5 889.8L608.6 883.3L615.4 883.3L617.5 889.8z"/><path d="M618.2 893.8L612.7 889.8L614.8 883.3L621.6 883.3L623.7 889.8z"/><path d="M624.4 891.8L618.9 887.8L621 881.3L627.8 881.3L629.9 887.8z"/><path d="M630.5 883.8L625 879.8L627.1 873.3L634 873.3L636.1 879.8z"/><path d="M636.7 882.8L631.2 878.8L633.3 872.3L640.1 872.3L642.2 878.8z"/><path d="M642.9 882.3L637.4 878.3L639.5 871.8L646.3 871.8L648.4 878.3z"/><path d="M649.1 881.8L643.5 877.8L645.6 871.3L652.5 871.3L654.6 877.8z"/><path d="M655.2 881.8L649.7 877.8L651.8 871.3L658.6 871.3L660.7 877.8z"/><path d="M661.4 884.8L655.9 880.8L658 874.3L664.8 874.3L666.9 880.8z"/><path d="M667.6 888.8L662.1 884.8L664.2 878.3L671 878.3L673.1 884.8z"/><path d="M673.7 892.8L668.2 888.8L670.3 882.3L677.1 882.3L679.3 888.8z"/><path d="M679.9 894.5L674.4 890.5L676.5 884L683.3 884L685.4 890.5z"/><path d="M686.1 893.3L680.6 889.3L682.7 882.8L689.5 882.8L691.6 889.3z"/><path d="M692.3 891.8L686.7 887.8L688.8 881.3L695.7 881.3L697.8 887.8z"/><path d="M698.4 891.3L692.9 887.3L695 880.8L701.8 880.8L703.9 887.3z"/><path d="M704.6 891.8L699.1 887.8L701.2 881.3L708 881.3L710.1 887.8z"/><path d="M710.8 890.8L705.3 886.8L707.4 880.3L714.2 880.3L716.3 886.8z"/><path d="M716.9 890.8L711.4 886.8L713.5 880.3L720.3 880.3L722.5 886.8z"/><path d="M723.1 893.3L717.6 889.3L719.7 882.8L726.5 882.8L728.6 889.3z"/><path d="M729.3 893.3L723.8 889.3L725.9 882.8L732.7 882.8L734.8 889.3z"/><path d="M735.5 893.3L729.9 889.3L732 882.8L738.9 882.8L741 889.3z"/><path d="M741.6 891.8L736.1 887.8L738.2 881.3L745 881.3L747.1 887.8z"/><path d="M747.8 890.8L742.3 886.8L744.4 880.3L751.2 880.3L753.3 886.8z"/><path d="M754 889.3L748.5 885.3L750.6 878.8L757.4 878.8L759.5 885.3z"/><path d="M760.1 891.3L754.6 887.3L756.7 880.8L763.5 880.8L765.7 887.3z"/><path d="M766.3 888.3L760.8 884.3L762.9 877.8L769.7 877.8L771.8 884.3z"/><path d="M772.5 876.3L767 872.3L769.1 865.8L775.9 865.8L778 872.3z"/><path d="M778.7 873.3L773.1 869.3L775.2 862.8L782.1 862.8L784.2 869.3z"/><path d="M784.8 868.3L779.3 864.3L781.4 857.8L788.2 857.8L790.3 864.3z"/><path d="M791 863.3L785.5 859.3L787.6 852.8L794.4 852.8L796.5 859.3z"/><path d="M797.2 864.8L791.7 860.8L793.8 854.3L800.6 854.3L802.7 860.8z"/><path d="M803.3 864.3L797.8 860.3L799.9 853.8L806.7 853.8L808.9 860.3z"/><path d="M809.5 867.3L804 863.3L806.1 856.8L812.9 856.8L815 863.3z"/><path d="M815.7 870.3L810.2 866.3L812.3 859.8L819.1 859.8L821.2 866.3z"/><path d="M821.9 873.8L816.3 869.8L818.4 863.3L825.3 863.3L827.4 869.8z"/><path d="M828 876.3L822.5 872.3L824.6 865.8L831.4 865.8L833.5 872.3z"/><path d="M834.2 878.3L828.7 874.3L830.8 867.8L837.6 867.8L839.7 874.3z"/><path d="M840.4 879.3L834.8 875.3L837 868.8L843.8 868.8L845.9 875.3z"/><path d="M846.5 879.8L841 875.8L843.1 869.3L849.9 869.3L852.1 875.8z"/><path d="M852.7 880.3L847.2 876.3L849.3 869.8L856.1 869.8L858.2 876.3z"/><path d="M858.9 882.3L853.4 878.3L855.5 871.8L862.3 871.8L864.4 878.3z"/><path d="M865.1 883.3L859.5 879.3L861.6 872.8L868.5 872.8L870.6 879.3z"/><path d="M871.2 882.8L865.7 878.8L867.8 872.3L874.6 872.3L876.7 878.8z"/><path d="M877.4 882.5L871.9 878.5L874 872L880.8 872L882.9 878.5z"/><path d="M883.6 882.8L878 878.8L880.2 872.3L887 872.3L889.1 878.8z"/><path d="M889.7 884.3L884.2 880.3L886.3 873.8L893.1 873.8L895.3 880.3z"/><path d="M908.2 879.3L902.7 875.3L904.8 868.8L911.7 868.8L913.8 875.3z"/><path d="M926.8 868.8L921.2 864.8L923.4 858.3L930.2 858.3L932.3 864.8z"/><path d="M945.3 874.8L939.8 870.8L941.9 864.3L948.7 864.3L950.8 870.8z"/><path d="M963.8 881.8L958.3 877.8L960.4 871.3L967.2 871.3L969.3 877.8z"/><path d="M982.3 877.3L976.8 873.3L978.9 866.8L985.7 866.8L987.8 873.3z"/><path d="M1000.8 879.3L995.3 875.3L997.4 868.8L1004.2 868.8L1006.3 875.3z"/><path d="M1019.3 881.8L1013.8 877.8L1015.9 871.3L1022.7 871.3L1024.8 877.8z"/><path d="M1037.8 887.8L1032.3 883.8L1034.4 877.3L1041.3 877.3L1043.4 883.8z"/><path d="M1056.4 885.3L1050.8 881.3L1053 874.8L1059.8 874.8L1061.9 881.3z"/><path d="M1074.9 871.8L1069.4 867.8L1071.5 861.3L1078.3 861.3L1080.4 867.8z"/><path d="M1093.4 838.3L1087.9 834.3L1090 827.8L1096.8 827.8L1098.9 834.3z"/><path d="M1111.9 867.8L1106.4 863.8L1108.5 857.3L1115.3 857.3L1117.4 863.8z"/><path d="M1130.4 888.3L1124.9 884.3L1127 877.8L1133.8 877.8L1135.9 884.3z"/><path d="M1148.9 875.8L1143.4 871.8L1145.5 865.3L1152.3 865.3L1154.4 871.8z"/><path d="M1167.4 879.8L1161.9 875.8L1164 869.3L1170.9 869.3L1173 875.8z"/><path d="M1186 881.3L1180.4 877.3L1182.5 870.8L1189.4 870.8L1191.5 877.3z"/><path d="M1204.5 877.3L1199 873.3L1201.1 866.8L1207.9 866.8L1210 873.3z"/><path d="M1223 865.3L1217.5 861.3L1219.6 854.8L1226.4 854.8L1228.5 861.3z"/><path d="M1241.5 843.8L1236 839.8L1238.1 833.3L1244.9 833.3L1247 839.8z"/><path d="M1260 863.8L1254.5 859.8L1256.6 853.3L1263.4 853.3L1265.5 859.8z"/><path d="M1278.5 876.3L1273 872.3L1275.1 865.8L1281.9 865.8L1284 872.3z"/><path d="M1297 870.8L1291.5 866.8L1293.6 860.3L1300.5 860.3L1302.6 866.8z"/><path d="M1315.6 866.3L1310 862.3L1312.1 855.8L1319 855.8L1321.1 862.3z"/><path d="M1334.1 861.3L1328.6 857.3L1330.7 850.8L1337.5 850.8L1339.6 857.3z"/><path d="M1352.6 874.3L1347.1 870.3L1349.2 863.8L1356 863.8L1358.1 870.3z"/><path d="M1371.1 786.2L1365.6 782.2L1367.7 775.7L1374.5 775.7L1376.6 782.2z"/><path d="M1389.6 713.8L1384.1 709.8L1386.2 703.3L1393 703.3L1395.1 709.8z"/><path d="M1408.1 800.2L1402.6 796.2L1404.7 789.7L1411.5 789.7L1413.6 796.2z"/><path d="M1426.6 866.8L1421.1 862.8L1423.2 856.3L1430 856.3L1432.2 862.8z"/><path d="M1445.2 870.8L1439.6 866.8L1441.7 860.3L1448.6 860.3L1450.7 866.8z"/>
</g>
<g stroke="#ffa500" stroke-width="1.2" fill="none">
<path d="M149.8 865h11.2M155.4 859.4v11.2M150 859.6l10.8 10.8M150 870.4l10.8 -10.8"/><path d="M155.9 866.5h11.2M161.5 860.9v11.2M156.1 861.1l10.8 10.8M156.1 871.9l10.8 -10.8"/><path d="M162.1 870.5h11.2M167.7 864.9v11.2M162.3 865.1l10.8 10.8M162.3 875.9l10.8 -10.8"/><path d="M168.3 866.5h11.2M173.9 860.9v11.2M168.5 861.1l10.8 10.8M168.5 871.9l10.8 -10.8"/><path d="M174.4 853.5h11.2M180 847.9v11.2M174.6 848.1l10.8 10.8M174.6 858.9l10.8 -10.8"/><path d="M180.6 839.5h11.2M186.2 833.9v11.2M180.8 834.1l10.8 10.8M180.8 844.9l10.8 -10.8"/><path d="M186.8 815h11.2M192.4 809.4v11.2M187 809.6l10.8 10.8M187 820.4l10.8 -10.8"/><path d="M193 800h11.2M198.6 794.4v11.2M193.2 794.6l10.8 10.8M193.2 805.4l10.8 -10.8"/><path d="M199.1 791.5h11.2M204.7 785.9v11.2M199.3 786.1l10.8 10.8M199.3 796.9l10.8 -10.8"/><path d="M205.3 795.5h11.2M210.9 789.9v11.2M205.5 790.1l10.8 10.8M205.5 800.9l10.8 -10.8"/><path d="M211.5 800h11.2M217.1 794.4v11.2M211.7 794.6l10.8 10.8M211.7 805.4l10.8 -10.8"/><path d="M217.6 814.5h11.2M223.2 808.9v11.2M217.8 809.1l10.8 10.8M217.8 819.9l10.8 -10.8"/><path d="M223.8 826.5h11.2M229.4 820.9v11.2M224 821.1l10.8 10.8M224 831.9l10.8 -10.8"/><path d="M230 835h11.2M235.6 829.4v11.2M230.2 829.6l10.8 10.8M230.2 840.4l10.8 -10.8"/><path d="M236.1 834.5h11.2M241.7 828.9v11.2M236.3 829.1l10.8 10.8M236.3 839.9l10.8 -10.8"/><path d="M242.3 820.5h11.2M247.9 814.9v11.2M242.5 815.1l10.8 10.8M242.5 825.9l10.8 -10.8"/><path d="M248.5 805.5h11.2M254.1 799.9v11.2M248.7 800.1l10.8 10.8M248.7 810.9l10.8 -10.8"/><path d="M254.7 790h11.2M260.3 784.4v11.2M254.9 784.6l10.8 10.8M254.9 795.4l10.8 -10.8"/><path d="M260.8 783h11.2M266.4 777.4v11.2M261 777.6l10.8 10.8M261 788.4l10.8 -10.8"/><path d="M267 780h11.2M272.6 774.4v11.2M267.2 774.6l10.8 10.8M267.2 785.4l10.8 -10.8"/><path d="M273.2 776h11.2M278.8 770.4v11.2M273.4 770.6l10.8 10.8M273.4 781.4l10.8 -10.8"/><path d="M279.3 762.5h11.2M284.9 756.9v11.2M279.5 757.1l10.8 10.8M279.5 767.9l10.8 -10.8"/><path d="M285.5 754h11.2M291.1 748.4v11.2M285.7 748.6l10.8 10.8M285.7 759.4l10.8 -10.8"/><path d="M291.7 750.5h11.2M297.3 744.9v11.2M291.9 745.1l10.8 10.8M291.9 755.9l10.8 -10.8"/><path d="M297.9 756h11.2M303.5 750.4v11.2M298.1 750.6l10.8 10.8M298.1 761.4l10.8 -10.8"/><path d="M304 780.5h11.2M309.6 774.9v11.2M304.2 775.1l10.8 10.8M304.2 785.9l10.8 -10.8"/><path d="M310.2 800.5h11.2M315.8 794.9v11.2M310.4 795.1l10.8 10.8M310.4 805.9l10.8 -10.8"/><path d="M316.4 857.5h11.2M322 851.9v11.2M316.6 852.1l10.8 10.8M316.6 862.9l10.8 -10.8"/><path d="M322.5 872h11.2M328.1 866.4v11.2M322.7 866.6l10.8 10.8M322.7 877.4l10.8 -10.8"/><path d="M328.7 879.5h11.2M334.3 873.9v11.2M328.9 874.1l10.8 10.8M328.9 884.9l10.8 -10.8"/><path d="M334.9 876.5h11.2M340.5 870.9v11.2M335.1 871.1l10.8 10.8M335.1 881.9l10.8 -10.8"/><path d="M341.1 859.5h11.2M346.7 853.9v11.2M341.3 854.1l10.8 10.8M341.3 864.9l10.8 -10.8"/><path d="M347.2 845.5h11.2M352.8 839.9v11.2M347.4 840.1l10.8 10.8M347.4 850.9l10.8 -10.8"/><path d="M353.4 832h11.2M359 826.4v11.2M353.6 826.6l10.8 10.8M353.6 837.4l10.8 -10.8"/><path d="M359.6 832.5h11.2M365.2 826.9v11.2M359.8 827.1l10.8 10.8M359.8 837.9l10.8 -10.8"/><path d="M365.7 839.5h11.2M371.3 833.9v11.2M365.9 834.1l10.8 10.8M365.9 844.9l10.8 -10.8"/><path d="M384.3 864.5h11.2M389.9 858.9v11.2M384.5 859.1l10.8 10.8M384.5 869.9l10.8 -10.8"/><path d="M402.8 870.5h11.2M408.4 864.9v11.2M403 865.1l10.8 10.8M403 875.9l10.8 -10.8"/><path d="M421.3 877.5h11.2M426.9 871.9v11.2M421.5 872.1l10.8 10.8M421.5 882.9l10.8 -10.8"/><path d="M439.8 886.5h11.2M445.4 880.9v11.2M440 881.1l10.8 10.8M440 891.9l10.8 -10.8"/><path d="M458.3 891h11.2M463.9 885.4v11.2M458.5 885.6l10.8 10.8M458.5 896.4l10.8 -10.8"/><path d="M476.8 888.5h11.2M482.4 882.9v11.2M477 883.1l10.8 10.8M477 893.9l10.8 -10.8"/><path d="M495.3 854.5h11.2M500.9 848.9v11.2M495.5 849.1l10.8 10.8M495.5 859.9l10.8 -10.8"/><path d="M513.9 857.5h11.2M519.5 851.9v11.2M514.1 852.1l10.8 10.8M514.1 862.9l10.8 -10.8"/><path d="M532.4 876.5h11.2M538 870.9v11.2M532.6 871.1l10.8 10.8M532.6 881.9l10.8 -10.8"/><path d="M550.9 862.5h11.2M556.5 856.9v11.2M551.1 857.1l10.8 10.8M551.1 867.9l10.8 -10.8"/><path d="M569.4 873.5h11.2M575 867.9v11.2M569.6 868.1l10.8 10.8M569.6 878.9l10.8 -10.8"/><path d="M587.9 881.5h11.2M593.5 875.9v11.2M588.1 876.1l10.8 10.8M588.1 886.9l10.8 -10.8"/><path d="M606.4 889h11.2M612 883.4v11.2M606.6 883.6l10.8 10.8M606.6 894.4l10.8 -10.8"/><path d="M624.9 888.5h11.2M630.5 882.9v11.2M625.1 883.1l10.8 10.8M625.1 893.9l10.8 -10.8"/><path d="M643.5 863.5h11.2M649.1 857.9v11.2M643.7 858.1l10.8 10.8M643.7 868.9l10.8 -10.8"/><path d="M662 874.5h11.2M667.6 868.9v11.2M662.2 869.1l10.8 10.8M662.2 879.9l10.8 -10.8"/><path d="M680.5 890.5h11.2M686.1 884.9v11.2M680.7 885.1l10.8 10.8M680.7 895.9l10.8 -10.8"/><path d="M699 891h11.2M704.6 885.4v11.2M699.2 885.6l10.8 10.8M699.2 896.4l10.8 -10.8"/><path d="M717.5 892.5h11.2M723.1 886.9v11.2M717.7 887.1l10.8 10.8M717.7 897.9l10.8 -10.8"/><path d="M736 892.5h11.2M741.6 886.9v11.2M736.2 887.1l10.8 10.8M736.2 897.9l10.8 -10.8"/><path d="M754.5 893.5h11.2M760.1 887.9v11.2M754.7 888.1l10.8 10.8M754.7 898.9l10.8 -10.8"/><path d="M773.1 888.5h11.2M778.7 882.9v11.2M773.3 883.1l10.8 10.8M773.3 893.9l10.8 -10.8"/><path d="M791.6 876.5h11.2M797.2 870.9v11.2M791.8 871.1l10.8 10.8M791.8 881.9l10.8 -10.8"/><path d="M810.1 877.5h11.2M815.7 871.9v11.2M810.3 872.1l10.8 10.8M810.3 882.9l10.8 -10.8"/><path d="M828.6 882.5h11.2M834.2 876.9v11.2M828.8 877.1l10.8 10.8M828.8 887.9l10.8 -10.8"/><path d="M847.1 880.5h11.2M852.7 874.9v11.2M847.3 875.1l10.8 10.8M847.3 885.9l10.8 -10.8"/><path d="M865.6 884.5h11.2M871.2 878.9v11.2M865.8 879.1l10.8 10.8M865.8 889.9l10.8 -10.8"/><path d="M884.1 884.5h11.2M889.7 878.9v11.2M884.3 879.1l10.8 10.8M884.3 889.9l10.8 -10.8"/><path d="M902.6 887.5h11.2M908.2 881.9v11.2M902.8 882.1l10.8 10.8M902.8 892.9l10.8 -10.8"/><path d="M921.2 869.5h11.2M926.8 863.9v11.2M921.4 864.1l10.8 10.8M921.4 874.9l10.8 -10.8"/><path d="M939.7 844.5h11.2M945.3 838.9v11.2M939.9 839.1l10.8 10.8M939.9 849.9l10.8 -10.8"/><path d="M958.2 859.5h11.2M963.8 853.9v11.2M958.4 854.1l10.8 10.8M958.4 864.9l10.8 -10.8"/><path d="M976.7 870.5h11.2M982.3 864.9v11.2M976.9 865.1l10.8 10.8M976.9 875.9l10.8 -10.8"/><path d="M995.2 862.5h11.2M1000.8 856.9v11.2M995.4 857.1l10.8 10.8M995.4 867.9l10.8 -10.8"/><path d="M1013.7 873.5h11.2M1019.3 867.9v11.2M1013.9 868.1l10.8 10.8M1013.9 878.9l10.8 -10.8"/><path d="M1032.2 876.5h11.2M1037.8 870.9v11.2M1032.4 871.1l10.8 10.8M1032.4 881.9l10.8 -10.8"/><path d="M1050.8 880.5h11.2M1056.4 874.9v11.2M1051 875.1l10.8 10.8M1051 885.9l10.8 -10.8"/><path d="M1069.3 865.5h11.2M1074.9 859.9v11.2M1069.5 860.1l10.8 10.8M1069.5 870.9l10.8 -10.8"/><path d="M1087.8 841.5h11.2M1093.4 835.9v11.2M1088 836.1l10.8 10.8M1088 846.9l10.8 -10.8"/><path d="M1106.3 858.5h11.2M1111.9 852.9v11.2M1106.5 853.1l10.8 10.8M1106.5 863.9l10.8 -10.8"/><path d="M1124.8 876.5h11.2M1130.4 870.9v11.2M1125 871.1l10.8 10.8M1125 881.9l10.8 -10.8"/><path d="M1143.3 876.5h11.2M1148.9 870.9v11.2M1143.5 871.1l10.8 10.8M1143.5 881.9l10.8 -10.8"/><path d="M1161.8 880.5h11.2M1167.4 874.9v11.2M1162 875.1l10.8 10.8M1162 885.9l10.8 -10.8"/><path d="M1180.4 882.5h11.2M1186 876.9v11.2M1180.6 877.1l10.8 10.8M1180.6 887.9l10.8 -10.8"/><path d="M1198.9 884.5h11.2M1204.5 878.9v11.2M1199.1 879.1l10.8 10.8M1199.1 889.9l10.8 -10.8"/><path d="M1217.4 876.5h11.2M1223 870.9v11.2M1217.6 871.1l10.8 10.8M1217.6 881.9l10.8 -10.8"/><path d="M1235.9 855.5h11.2M1241.5 849.9v11.2M1236.1 850.1l10.8 10.8M1236.1 860.9l10.8 -10.8"/><path d="M1254.4 867.5h11.2M1260 861.9v11.2M1254.6 862.1l10.8 10.8M1254.6 872.9l10.8 -10.8"/><path d="M1272.9 877.5h11.2M1278.5 871.9v11.2M1273.1 872.1l10.8 10.8M1273.1 882.9l10.8 -10.8"/><path d="M1291.4 870.5h11.2M1297 864.9v11.2M1291.6 865.1l10.8 10.8M1291.6 875.9l10.8 -10.8"/><path d="M1310 872.5h11.2M1315.6 866.9v11.2M1310.2 867.1l10.8 10.8M1310.2 877.9l10.8 -10.8"/><path d="M1328.5 873.5h11.2M1334.1 867.9v11.2M1328.7 868.1l10.8 10.8M1328.7 878.9l10.8 -10.8"/><path d="M1365.5 856.4h11.2M1371.1 850.8v11.2M1365.7 851l10.8 10.8M1365.7 861.8l10.8 -10.8"/><path d="M1402.5 829.4h11.2M1408.1 823.8v11.2M1402.7 824l10.8 10.8M1402.7 834.8l10.8 -10.8"/><path d="M1439.6 850.4h11.2M1445.2 844.8v11.2M1439.8 845l10.8 10.8M1439.8 855.8l10.8 -10.8"/>
</g>
<g fill="#00ffff">
<path d="M143.3 844h11.8L149.2 854.4z"/><path d="M149.5 853h11.8L155.4 863.4z"/><path d="M155.6 846h11.8L161.5 856.4z"/><path d="M161.8 849h11.8L167.7 859.4z"/><path d="M168 830h11.8L173.9 840.4z"/><path d="M174.1 812h11.8L180 822.4z"/><path d="M180.3 784h11.8L186.2 794.4z"/><path d="M186.5 759.5h11.8L192.4 769.9z"/><path d="M192.7 752h11.8L198.6 762.4z"/><path d="M198.8 764h11.8L204.7 774.4z"/><path d="M205 784h11.8L210.9 794.4z"/><path d="M211.2 810h11.8L217.1 820.4z"/><path d="M217.3 843h11.8L223.2 853.4z"/><path d="M223.5 839h11.8L229.4 849.4z"/><path d="M229.7 818h11.8L235.6 828.4z"/><path d="M235.8 804h11.8L241.7 814.4z"/><path d="M242 808.5h11.8L247.9 818.9z"/><path d="M248.2 836.5h11.8L254.1 846.9z"/><path d="M254.4 835.5h11.8L260.3 845.9z"/><path d="M260.5 809.5h11.8L266.4 819.9z"/><path d="M266.7 803.5h11.8L272.6 813.9z"/><path d="M272.9 806h11.8L278.8 816.4z"/><path d="M279 740h11.8L284.9 750.4z"/><path d="M285.2 727h11.8L291.1 737.4z"/><path d="M291.4 755.5h11.8L297.3 765.9z"/>
</g>
<rect x="124.5" y="98.5" width="1333.0" height="796.0" fill="none" stroke="#000" stroke-width="1.3"/>
<text class="t" x="109.8" y="903.6" text-anchor="end" textLength="13.8" lengthAdjust="spacingAndGlyphs">0</text>
<text class="t" x="109.8" y="770.9" text-anchor="end" textLength="27.5" lengthAdjust="spacingAndGlyphs">20</text>
<text class="t" x="109.8" y="638.3" text-anchor="end" textLength="27.5" lengthAdjust="spacingAndGlyphs">40</text>
<text class="t" x="109.8" y="505.6" text-anchor="end" textLength="27.5" lengthAdjust="spacingAndGlyphs">60</text>
<text class="t" x="109.8" y="372.9" text-anchor="end" textLength="27.5" lengthAdjust="spacingAndGlyphs">80</text>
<text class="t" x="109.8" y="240.3" text-anchor="end" textLength="41.2" lengthAdjust="spacingAndGlyphs">100</text>
<text class="t" x="109.8" y="107.6" text-anchor="end" textLength="41.2" lengthAdjust="spacingAndGlyphs">120</text>
<text class="t" x="124.4" y="936.7" text-anchor="middle" textLength="66.2" lengthAdjust="spacingAndGlyphs">11/04</text>
<text class="t" x="272.5" y="936.7" text-anchor="middle" textLength="66.2" lengthAdjust="spacingAndGlyphs">11/05</text>
<text class="t" x="420.6" y="936.7" text-anchor="middle" textLength="66.2" lengthAdjust="spacingAndGlyphs">11/06</text>
<text class="t" x="568.7" y="936.7" text-anchor="middle" textLength="66.2" lengthAdjust="spacingAndGlyphs">11/07</text>
<text class="t" x="716.8" y="936.7" text-anchor="middle" textLength="66.2" lengthAdjust="spacingAndGlyphs">11/08</text>
<text class="t" x="865.0" y="936.7" text-anchor="middle" textLength="66.2" lengthAdjust="spacingAndGlyphs">11/09</text>
<text class="t" x="1013.1" y="936.7" text-anchor="middle" textLength="66.2" lengthAdjust="spacingAndGlyphs">11/10</text>
<text class="t" x="1161.2" y="936.7" text-anchor="middle" textLength="66.2" lengthAdjust="spacingAndGlyphs">11/11</text>
<text class="t" x="1309.3" y="936.7" text-anchor="middle" textLength="66.2" lengthAdjust="spacingAndGlyphs">11/12</text>
<text class="t" x="1457.4" y="936.7" text-anchor="middle" textLength="66.2" lengthAdjust="spacingAndGlyphs">11/13</text>
<text class="b" x="303.0" y="58.4" textLength="40.7" lengthAdjust="spacingAndGlyphs">188</text>
<text class="b" x="351.0" y="58.4" textLength="50.6" lengthAdjust="spacingAndGlyphs">Line</text>
<text class="b" x="407.2" y="58.4" textLength="8.5" lengthAdjust="spacingAndGlyphs">-</text>
<text class="b" x="421.6" y="58.4" textLength="104.5" lengthAdjust="spacingAndGlyphs">formerly</text>
<text class="b" x="532.3" y="58.4" textLength="41.8" lengthAdjust="spacingAndGlyphs">669</text>
<text class="b" x="581.1" y="58.4" textLength="50.6" lengthAdjust="spacingAndGlyphs">Line</text>
<text class="b" x="637.9" y="58.4" textLength="8.5" lengthAdjust="spacingAndGlyphs">-</text>
<text class="b" x="652.3" y="58.4" textLength="93.9" lengthAdjust="spacingAndGlyphs">Fosberg</text>
<text class="b" x="752.6" y="58.4" textLength="42.1" lengthAdjust="spacingAndGlyphs">Fire</text>
<text class="b" x="801.6" y="58.4" textLength="101.5" lengthAdjust="spacingAndGlyphs">Weather</text>
<text class="b" x="909.9" y="58.4" textLength="68.1" lengthAdjust="spacingAndGlyphs">Index</text>
<text class="b" x="984.9" y="58.4" textLength="9.2" lengthAdjust="spacingAndGlyphs">-</text>
<text class="b" x="999.6" y="58.4" textLength="131.0" lengthAdjust="spacingAndGlyphs">11/04/2025</text>
<text class="b" x="1136.6" y="58.4" textLength="38.2" lengthAdjust="spacingAndGlyphs">12z</text>
<text class="b" x="1181.6" y="58.4" textLength="97.2" lengthAdjust="spacingAndGlyphs">forecast</text>
<text class="b" x="791.3" y="985.7" text-anchor="middle" textLength="56.5" lengthAdjust="spacingAndGlyphs">Date</text>
<text class="b" transform="translate(36.5,673.9) rotate(-90)" textLength="94.0" lengthAdjust="spacingAndGlyphs">Fosberg</text>
<text class="b" transform="translate(36.5,573.4) rotate(-90)" textLength="43.4" lengthAdjust="spacingAndGlyphs">Fire</text>
<text class="b" transform="translate(36.5,524.9) rotate(-90)" textLength="103.0" lengthAdjust="spacingAndGlyphs">Weather</text>
<text class="b" transform="translate(36.5,416.5) rotate(-90)" textLength="69.0" lengthAdjust="spacingAndGlyphs">Index</text>
<text class="b" transform="translate(36.5,342.1) rotate(-90)" textLength="24.2" lengthAdjust="spacingAndGlyphs">(-)</text>
<text class="t" x="1347.2" y="137.2" text-anchor="end" textLength="85.5" lengthAdjust="spacingAndGlyphs">ECMWF</text>
<g fill="#0000cd"><rect x="1390" y="122.9" width="9" height="9"/></g>
<text class="t" x="1347.2" y="169.8" text-anchor="end" textLength="64.5" lengthAdjust="spacingAndGlyphs">HRRR</text>
<g fill="#006400"><circle cx="1394.5" cy="160.2" r="5.6"/></g>
<text class="t" x="1347.2" y="202.5" text-anchor="end" textLength="117.5" lengthAdjust="spacingAndGlyphs">NAM 3 km</text>
<g fill="#ff0000"><path d="M1388.6 197.6h11.8L1394.5 187.2z"/></g>
<text class="t" x="1347.2" y="235.1" text-anchor="end" textLength="131.8" lengthAdjust="spacingAndGlyphs">NAM 12 km</text>
<g fill="#000"><path d="M1388.6 221.5h11.8L1394.5 231.9z"/></g>
<text class="t" x="1347.2" y="267.7" text-anchor="end" textLength="120" lengthAdjust="spacingAndGlyphs">GFS 0.125°</text>
<g fill="#c0c0c0"><path d="M1388.7 258.8l5.8 -5.8l5.8 5.8l-5.8 5.8z"/></g>
<text class="t" x="1347.2" y="300.4" text-anchor="end" textLength="120" lengthAdjust="spacingAndGlyphs">GFS 0.250°</text>
<g fill="#87ceeb"><path d="M1394.5 297.4L1389 293.4L1391.1 287L1397.9 287L1400 293.4z"/></g>
<text class="t" x="1347.2" y="333.0" text-anchor="end" textLength="57" lengthAdjust="spacingAndGlyphs">NBM</text>
<g stroke="#ffa500" stroke-width="1.2" fill="none"><path d="M1388.9 324.5h11.2M1394.5 318.9v11.2M1389.1 319.1l10.8 10.8M1389.1 329.9l10.8 -10.8"/></g>
<text class="t" x="1347.2" y="365.6" text-anchor="end" textLength="146" lengthAdjust="spacingAndGlyphs">CANSAC WRF</text>
<g fill="#00ffff"><path d="M1388.6 352.9h11.8L1394.5 363.2z"/></g>
</svg></body></html>
